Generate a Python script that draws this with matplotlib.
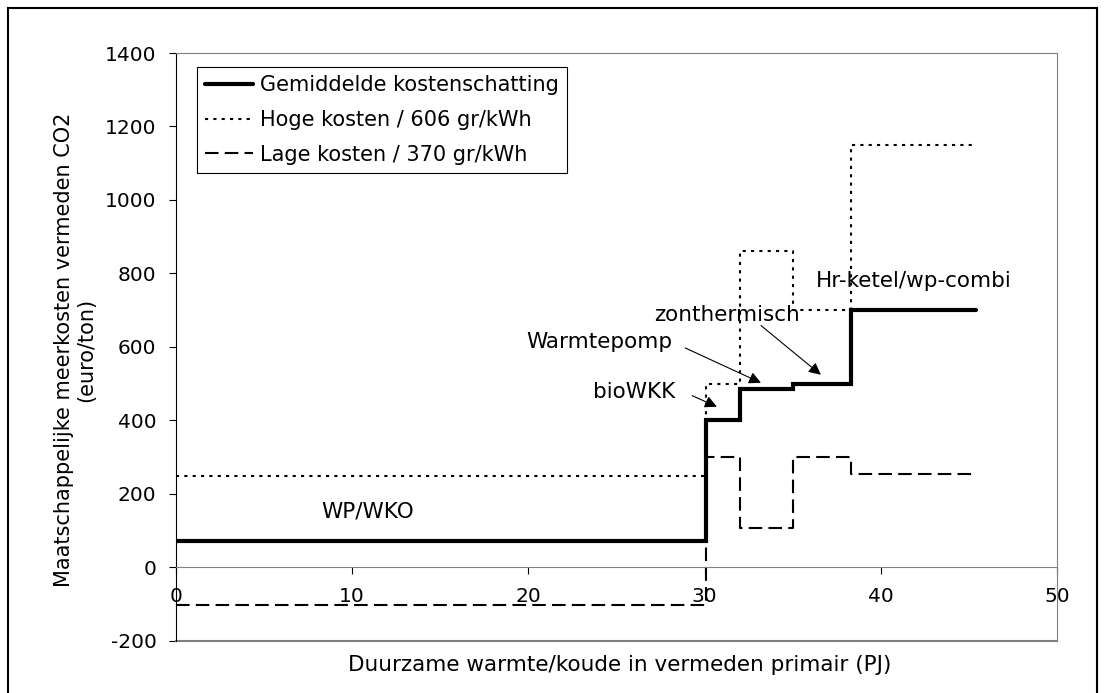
import matplotlib.pyplot as plt
from matplotlib.patches import Rectangle

# grenzen van de stappen (PJ)
x_edges = [0, 30.1, 32.0, 35.0, 38.3, 45.4]
gemiddeld = [72, 400, 485, 500, 700]
hoog = [247, 500, 862, 700, 1150]
laag = [-103, 300, 107, 300, 253]

labels = ["Gemiddelde kostenschatting", "Hoge kosten / 606 gr/kWh", "Lage kosten / 370 gr/kWh"]

# annotaties: tekst, tekstpositie, pijlpunt (None = geen pijl)
ann_text = ["WP/WKO", "bioWKK", "Warmtepomp", "zonthermisch", "Hr-ketel/wp-combi"]
ann_xy_text = [(10.9, 151), (26.0, 478), (24.0, 613), (31.3, 687), (41.9, 778)]
ann_tip = [None, (30.7, 437), (33.2, 502), (36.6, 524), None]
ann_start = [None, (29.3, 467), (28.9, 597), (33.2, 658), None]

plt.rcParams['font.family'] = 'DejaVu Sans'
plt.rcParams['axes.unicode_minus'] = False
fs = 15.5
fs_tick = 14.5

fig = plt.figure(figsize=(11.04, 6.93), dpi=100)
ax = fig.add_axes([0.1594, 0.0755, 0.798, 0.848])

ax.step(x_edges, gemiddeld + [gemiddeld[-1]], where='post', color='black', lw=3,
        label=labels[0], solid_capstyle='round', solid_joinstyle='miter')
ax.step(x_edges, hoog + [hoog[-1]], where='post', color='black', lw=1.5,
        linestyle=(0, (1.5, 2.5)), label=labels[1])
ax.step(x_edges, laag + [laag[-1]], where='post', color='black', lw=1.5,
        linestyle=(0, (6.5, 3)), label=labels[2])

for t, pos, tip, start in zip(ann_text, ann_xy_text, ann_tip, ann_start):
    ax.text(pos[0], pos[1], t, ha='center', va='center', fontsize=fs)
    if tip is not None:
        ax.annotate("", xy=tip, xytext=start,
                    arrowprops=dict(arrowstyle='-|>', color='black', lw=0.8,
                                    mutation_scale=18, shrinkA=0, shrinkB=0))

ax.set_xlim(0, 50)
ax.set_ylim(-200, 1400)
ax.set_xticks([0, 10, 20, 30, 40, 50])
ax.set_yticks(range(-200, 1401, 200))

grey = '#808080'
ax.spines['bottom'].set_position(('data', 0))
ax.spines['bottom'].set_color(grey)
ax.spines['top'].set_color(grey)
ax.spines['right'].set_color(grey)
ax.spines['left'].set_color('black')
ax.axhline(-200, color=grey, lw=1.5, clip_on=False)
ax.tick_params(axis='x', direction='out', length=5, pad=9, labelsize=fs_tick, color='black')
ax.tick_params(axis='y', direction='out', length=5, pad=9, labelsize=fs_tick)

ax.set_ylabel("Maatschappelijke meerkosten vermeden CO2\n(euro/ton)", fontsize=15, linespacing=1.15)
ax.yaxis.set_label_coords(-0.09, 0.495)
ax.set_xlabel("Duurzame warmte/koude in vermeden primair (PJ)", fontsize=fs)
ax.xaxis.set_label_coords(0.504, -0.025)

leg = ax.legend(loc='upper left', bbox_to_anchor=(0.024, 0.976), borderaxespad=0,
                fancybox=False, edgecolor='black', fontsize=15, handlelength=2.3,
                handletextpad=0.3, labelspacing=0.7, borderpad=0.4, framealpha=1)
leg.get_frame().set_linewidth(0.8)

fig.patches.append(Rectangle((8 / 1104, -0.01), 1089 / 1104, 1 - 8 / 693 + 0.01,
                             transform=fig.transFigure, fill=False, ec='black', lw=1.5))

fig.savefig("out.png", dpi=100)
